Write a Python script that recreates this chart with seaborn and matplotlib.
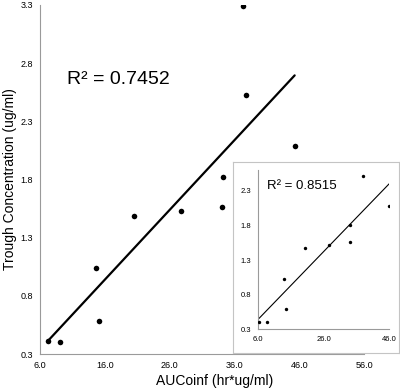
import matplotlib
matplotlib.use("Agg")
import matplotlib.pyplot as plt
import seaborn as sns
import numpy as np

# main chart: all subjects
auc = [7.2, 9.1, 14.6, 15.1, 20.5, 27.7, 34.1, 34.2, 37.4, 37.8, 45.3]
trough = [0.41, 0.40, 1.04, 0.58, 1.49, 1.53, 1.56, 1.82, 3.29, 2.53, 2.09]

# inset: outlier removed
auc_in = [6.3, 8.6, 14.0, 14.6, 20.2, 27.5, 34.1, 34.1, 38.0, 46.0]
trough_in = [0.41, 0.41, 1.03, 0.59, 1.48, 1.52, 1.81, 1.56, 2.52, 2.08]

main_xticks = [6, 16, 26, 36, 46, 56]
main_yticks = [0.3, 0.8, 1.3, 1.8, 2.3, 2.8, 3.3]
inset_xticks = [6, 26, 46]
inset_yticks = [0.3, 0.8, 1.3, 1.8, 2.3]

sns.set_theme(style="white")
plt.rcParams["font.family"] = ["Liberation Sans", "DejaVu Sans"]
plt.rcParams["text.color"] = "black"
plt.rcParams["axes.labelcolor"] = "black"

GRAY = "#9a9a9a"


def style_axes(ax, fs):
    for side in ["top", "right"]:
        ax.spines[side].set_visible(False)
    for side in ["left", "bottom"]:
        ax.spines[side].set_color(GRAY)
        ax.spines[side].set_linewidth(0.8)
    ax.tick_params(axis="both", direction="out", length=3, width=0.8,
                   labelsize=fs, pad=2, colors="black")
    ax.tick_params(axis="both", color=GRAY)
    ax.xaxis.set_major_formatter(plt.FuncFormatter(lambda v, _: f"{v:.1f}"))
    ax.yaxis.set_major_formatter(plt.FuncFormatter(lambda v, _: f"{v:.1f}"))


fig = plt.figure(figsize=(4.0, 3.88), dpi=100)

ax = fig.add_axes([0.10, 34 / 388, 0.81, 349 / 388])
sns.regplot(x=auc, y=trough, ax=ax, ci=None, color="black",
            scatter_kws={"s": 16, "linewidths": 0, "zorder": 3, "alpha": 1},
            line_kws={"linewidth": 1.6})
ax.set_xlim(6, 56)
ax.set_ylim(0.3, 3.3)
ax.set_xticks(main_xticks)
ax.set_yticks(main_yticks)
style_axes(ax, 6.5)
ax.set_xlabel("AUCoinf (hr*ug/ml)", fontsize=10)
ax.set_ylabel("Trough Concentration (ug/ml)", fontsize=10)
ax.xaxis.set_label_coords(0.54, -0.058)
ax.yaxis.set_label_coords(-0.072, 0.5)
ax.text(0.084, 0.786, "R² = 0.7452", transform=ax.transAxes,
        fontsize=14, va="center", ha="left")

# inset frame
frame = fig.add_axes([233 / 400, 35 / 388, 166 / 400, 191 / 388])
frame.set_xticks([])
frame.set_yticks([])
frame.set_facecolor("white")
for sp in frame.spines.values():
    sp.set_color("#c4c4c4")
    sp.set_linewidth(0.8)

ins = fig.add_axes([258 / 400, 58.7 / 388, 131.3 / 400, 159.3 / 388])
ins.set_facecolor("none")
sns.regplot(x=auc_in, y=trough_in, ax=ins, ci=None, color="black",
            scatter_kws={"s": 6, "linewidths": 0, "zorder": 3, "alpha": 1},
            line_kws={"linewidth": 0.8})
ins.set_xlim(6, 46)
ins.set_ylim(0.3, 2.6)
ins.set_xticks(inset_xticks)
ins.set_yticks(inset_yticks)
style_axes(ins, 5.5)
ins.set_xlabel("")
ins.set_ylabel("")
ins.text(0.07, 0.9, "R² = 0.8515", transform=ins.transAxes,
         fontsize=9.5, va="center", ha="left")

fig.savefig("out.png", dpi=100)
